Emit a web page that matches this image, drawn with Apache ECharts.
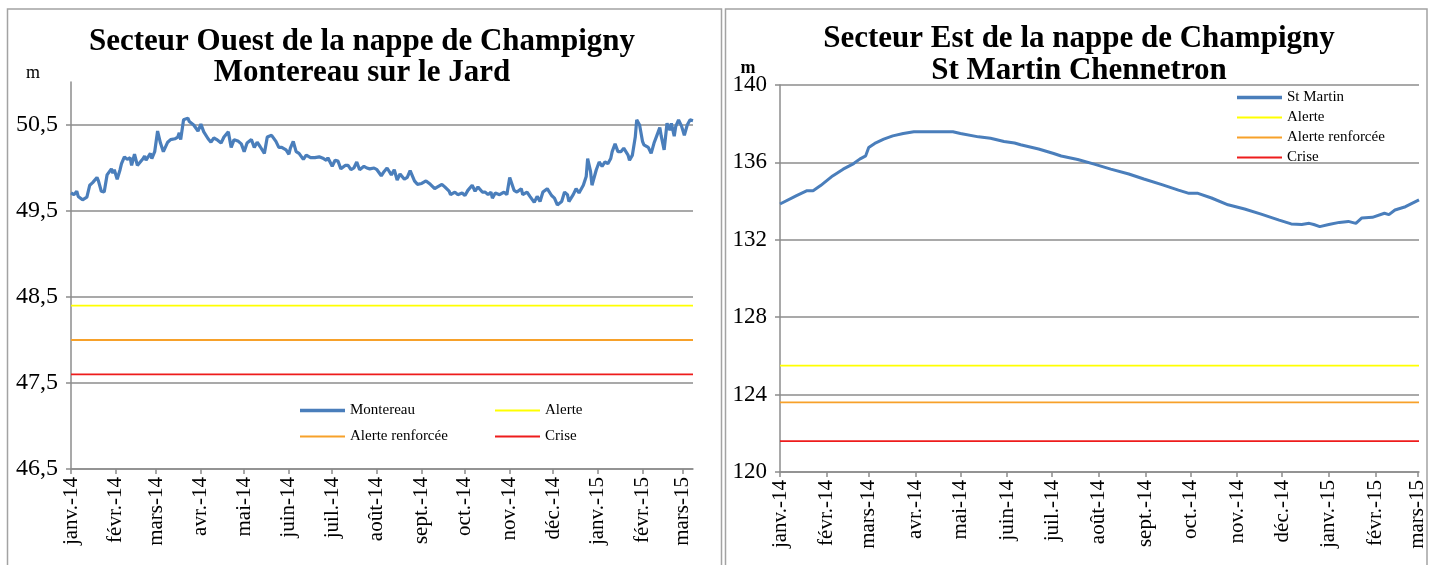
<!DOCTYPE html>
<html><head><meta charset="utf-8">
<script src="https://cdn.jsdelivr.net/npm/echarts@6/dist/echarts.min.js"></script>
<style>html,body{margin:0;padding:0;background:#fff;overflow:hidden}#c{width:1429px;height:565px}</style>
</head><body><div id="c"></div>
<script>
// ---- data ----
const monthLabels = ['janv.-14','févr.-14','mars-14','avr.-14','mai-14','juin-14','juil.-14','août-14','sept.-14','oct.-14','nov.-14','déc.-14','janv.-15','févr.-15','mars-15'];
const monthStartDays = [0,31,59,90,120,151,181,212,243,273,304,334,365,396,424]; // days since 1 Jan 2014

const montereauDays = [0,2,4,5,6,8,11,13,15,18,19,21,23,25,28,29,30,32,34,35,37,39,41,42,44,46,47,50,51,52,55,56,58,60,62,64,67,69,72,74,75,76,78,81,82,85,88,90,92,95,97,99,101,104,106,
109,111,113,116,118,120,122,125,127,129,131,134,136,139,142,144,146,149,151,152,154,156,158,161,163,166,169,172,175,177,178,181,183,185,187,190,192,194,196,198,200,203,205,207,210,212,215,217,
219,222,224,226,228,231,233,235,238,240,243,246,249,252,254,257,259,262,263,266,268,271,273,275,278,280,282,285,287,289,291,292,294,297,300,302,304,307,309,312,313,316,318,321,323,325,327,
330,333,335,337,340,342,344,345,348,350,352,355,357,358,360,361,364,366,368,370,372,374,375,377,379,381,383,386,387,389,391,392,394,396,397,400,402,404,406,408,409,411,413,415,416,418,419,421,423,425,427,429,431];
const montereauLevels = [49.71,49.69,49.73,49.67,49.69,49.63,49.66,49.80,49.83,49.89,49.85,49.73,49.72,49.92,49.99,49.94,49.98,49.87,49.98,50.05,50.13,50.10,50.12,50.03,50.16,50.03,50.03,50.11,50.14,50.09,50.17,50.11,50.19,50.43,50.29,50.19,50.30,50.33,50.34,50.36,50.41,50.33,50.56,50.58,50.54,50.50,50.43,50.51,50.42,50.34,50.30,50.35,50.33,50.29,50.36,
50.42,50.24,50.33,50.31,50.28,50.19,50.29,50.33,50.24,50.30,50.25,50.17,50.36,50.38,50.31,50.24,50.24,50.21,50.16,50.23,50.31,50.19,50.17,50.10,50.15,50.12,50.12,50.13,50.11,50.09,50.12,50.02,50.09,50.08,49.99,50.03,50.03,49.98,50.00,50.07,49.98,50.02,50.00,49.99,50.00,49.98,49.91,49.96,
50.00,49.92,49.98,49.86,49.93,49.87,49.89,49.97,49.85,49.81,49.82,49.85,49.81,49.76,49.78,49.81,49.78,49.73,49.69,49.72,49.69,49.71,49.68,49.74,49.80,49.73,49.78,49.72,49.72,49.69,49.72,49.65,49.71,49.69,49.72,49.69,49.89,49.74,49.72,49.76,49.69,49.72,49.67,49.60,49.67,49.61,49.72,
49.76,49.68,49.65,49.57,49.61,49.72,49.69,49.61,49.69,49.76,49.71,49.80,49.90,50.11,49.96,49.80,49.98,50.07,50.02,50.07,50.05,50.11,50.19,50.28,50.19,50.19,50.23,50.15,50.09,50.15,50.36,50.56,50.50,50.31,50.27,50.24,50.17,50.29,50.38,50.47,50.37,50.21,50.52,50.44,50.52,50.37,50.48,50.56,50.49,50.38,50.50,50.56,50.55];

const stMartinDays = [0,11,18,22,27,35,42,49,53,57,59,63,69,75,82,89,115,120,132,140,149,156,160,172,182,187,198,209,220,232,242,254,265,272,278,287,298,309,320,332,340,347,352,355,359,365,372,378,383,387,394,402,405,409,416,425];
const stMartinLevels = [133.85,134.28,134.54,134.54,134.80,135.30,135.65,135.94,136.17,136.34,136.77,136.98,137.20,137.37,137.49,137.58,137.58,137.49,137.32,137.25,137.08,137.00,136.91,136.69,136.46,136.33,136.15,135.91,135.65,135.40,135.14,134.85,134.57,134.40,134.40,134.16,133.81,133.59,133.33,133.02,132.82,132.79,132.85,132.79,132.68,132.79,132.90,132.95,132.85,133.13,133.16,133.37,133.30,133.54,133.71,134.06];

const thresholdNames = ['Alerte','Alerte renforcée','Crise'];
const montereauThresholds = [48.4, 48.0, 47.6];
const stMartinThresholds = [125.5, 123.6, 121.6];

// ---- styles ----
const SERIF = '"Liberation Serif", "Times New Roman", serif';
const BLUE = '#4a7ebb';
const thresholdColors = ['#ffff00', '#f7a12a', '#ee1c1c'];
const GRID_GRAY = '#8c8c8c';

const pairs = (xs, ys) => xs.map((x, i) => [x, ys[i]]);
const lastW = montereauDays[montereauDays.length - 1];
const lastE = stMartinDays[stMartinDays.length - 1];

function xAxisCfg(gridIndex) {
  return {
    type: 'value', gridIndex, min: 0, max: 'dataMax',
    axisLine: { show: true, lineStyle: { color: GRID_GRAY, width: 1.5 } },
    axisTick: { show: true, length: 5, customValues: monthStartDays, lineStyle: { color: GRID_GRAY, width: 1.5 } },
    axisLabel: {
      customValues: monthStartDays, rotate: 90, margin: 8,
      fontFamily: SERIF, fontSize: 21, color: '#000',
      formatter: v => monthLabels[monthStartDays.indexOf(v)] || ''
    },
    splitLine: { show: false }
  };
}

const series = [];
series.push({ name: 'Montereau', type: 'line', xAxisIndex: 0, yAxisIndex: 0, showSymbol: false, symbol: 'none',
  data: pairs(montereauDays, montereauLevels), lineStyle: { color: BLUE, width: 3.2 }, itemStyle: { color: BLUE }, z: 5 });
thresholdNames.forEach((n, i) => series.push({ name: n, type: 'line', xAxisIndex: 0, yAxisIndex: 0, symbol: 'none',
  data: [[0, montereauThresholds[i]], [lastW, montereauThresholds[i]]],
  lineStyle: { color: thresholdColors[i], width: 1.8 }, itemStyle: { color: thresholdColors[i] } }));
series.push({ name: 'St Martin', type: 'line', xAxisIndex: 1, yAxisIndex: 1, showSymbol: false, symbol: 'none',
  data: pairs(stMartinDays, stMartinLevels), lineStyle: { color: BLUE, width: 3 }, itemStyle: { color: BLUE }, z: 5 });
thresholdNames.forEach((n, i) => series.push({ name: n, type: 'line', xAxisIndex: 1, yAxisIndex: 1, symbol: 'none',
  data: [[0, stMartinThresholds[i]], [lastE, stMartinThresholds[i]]],
  lineStyle: { color: thresholdColors[i], width: 1.8 }, itemStyle: { color: thresholdColors[i] } }));

const legText = { fontFamily: SERIF, fontSize: 15, color: '#000' };
function leg(name, left, top, h) {
  return { data: [name], left, top, icon: 'rect', itemWidth: 45, itemHeight: h, selectedMode: false,
    padding: 0, textStyle: legText };
}

const option = {
  animation: false,
  backgroundColor: '#fff',
  grid: [
    { left: 71, top: 82, width: 622, height: 387 },
    { left: 780, top: 85, width: 639, height: 387 }
  ],
  xAxis: [xAxisCfg(0), xAxisCfg(1)],
  yAxis: [
    { type: 'value', gridIndex: 0, min: 46.5, max: 51, interval: 1,
      axisLine: { show: true, lineStyle: { color: GRID_GRAY, width: 1.5 } },
      axisTick: { show: true, length: 5, lineStyle: { color: GRID_GRAY, width: 1.5 } },
      axisLabel: { margin: 13, fontFamily: SERIF, fontSize: 24, color: '#000', showMaxLabel: false,
        formatter: v => v.toFixed(1).replace('.', ',') },
      splitLine: { show: true, showMaxLine: false, lineStyle: { color: GRID_GRAY, width: 1.5 } } },
    { type: 'value', gridIndex: 1, min: 120, max: 140, interval: 4,
      axisLine: { show: true, lineStyle: { color: GRID_GRAY, width: 1.5 } },
      axisTick: { show: true, length: 5, lineStyle: { color: GRID_GRAY, width: 1.5 } },
      axisLabel: { margin: 13, fontFamily: SERIF, fontSize: 23, color: '#000' },
      splitLine: { show: true, lineStyle: { color: GRID_GRAY, width: 1.5 } } }
  ],
  legend: [
    leg('Montereau', 300, 403, 3.5),
    leg('Alerte', 495, 403, 2),
    leg('Alerte renforcée', 300, 429, 2),
    leg('Crise', 495, 429, 2),
    leg('St Martin', 1237, 90, 3.5),
    leg('Alerte', 1237, 110, 2),
    leg('Alerte renforcée', 1237, 130, 2),
    leg('Crise', 1237, 150, 2)
  ],
  graphic: [
    { type: 'rect', shape: { x: 7.5, y: 9, width: 714, height: 600 }, style: { fill: 'none', stroke: '#a3a3a3', lineWidth: 1.5 }, silent: true, z: -10 },
    { type: 'rect', shape: { x: 725.5, y: 9, width: 701.5, height: 600 }, style: { fill: 'none', stroke: '#a3a3a3', lineWidth: 1.5 }, silent: true, z: -10 },
    { type: 'text', x: 362, y: 42, style: { text: 'Secteur Ouest de la nappe de Champigny', font: 'bold 31px ' + SERIF, fill: '#000', align: 'center', verticalAlign: 'middle' }, z: 10 },
    { type: 'text', x: 362, y: 73, style: { text: 'Montereau sur le Jard', font: 'bold 31px ' + SERIF, fill: '#000', align: 'center', verticalAlign: 'middle' }, z: 10 },
    { type: 'text', x: 1079, y: 39, style: { text: 'Secteur Est de la nappe de Champigny', font: 'bold 31px ' + SERIF, fill: '#000', align: 'center', verticalAlign: 'middle' }, z: 10 },
    { type: 'text', x: 1079, y: 71, style: { text: 'St Martin Chennetron', font: 'bold 31px ' + SERIF, fill: '#000', align: 'center', verticalAlign: 'middle' }, z: 10 },
    { type: 'text', x: 33, y: 73, style: { text: 'm', font: '18px ' + SERIF, fill: '#000', align: 'center', verticalAlign: 'middle' } },
    { type: 'text', x: 748, y: 68, style: { text: 'm', font: 'bold 18px ' + SERIF, fill: '#000', align: 'center', verticalAlign: 'middle' } }
  ],
  series
};

const chart = echarts.init(document.getElementById('c'), null, { renderer: 'canvas' });
chart.setOption(option);
</script>
</body></html>
